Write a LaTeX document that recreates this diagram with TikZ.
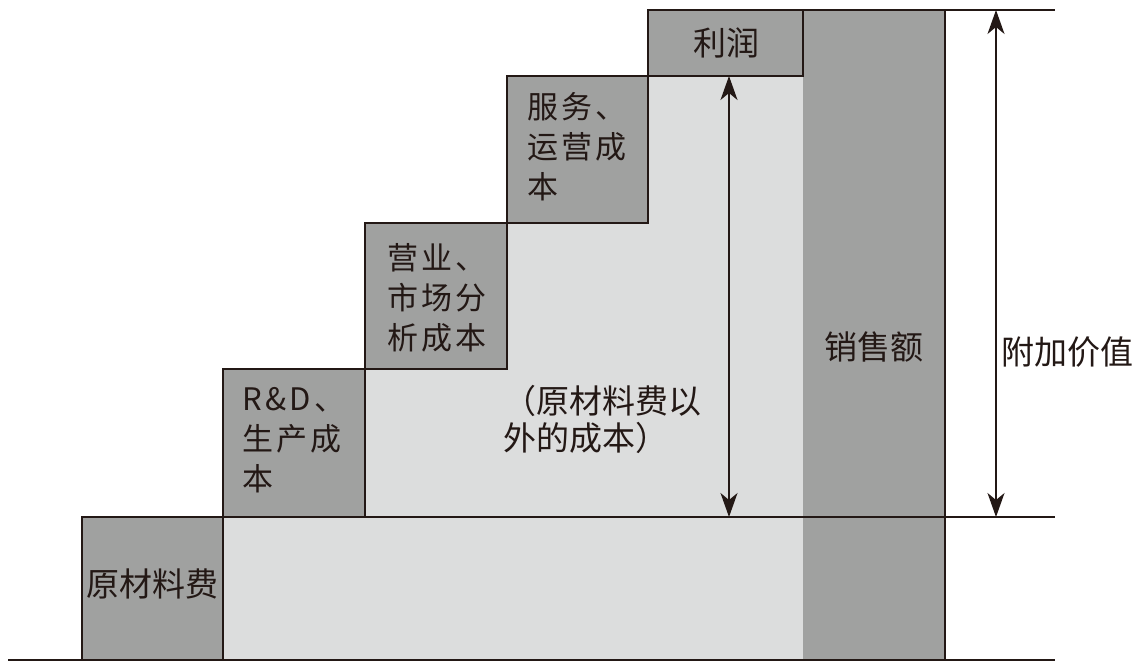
\documentclass[tikz,border=0pt]{standalone}
\usepackage{fontspec}
\setmainfont{Noto Sans CJK SC}
\newfontfamily\stepfont[LetterSpace=11]{Noto Sans CJK SC}
\usetikzlibrary{arrows.meta,positioning}
\tikzset{>={Stealth[length=24pt,width=17pt,inset=7pt]}}
\definecolor{ink}{HTML}{231815}
\definecolor{costgray}{HTML}{A0A1A0}
\definecolor{addgray}{HTML}{DCDDDD}
\tikzset{
  costbox/.style={fill=costgray,draw=ink,line width=1.3pt},
  steplabel/.style={anchor=north west,inner sep=0pt,align=left,text=ink,
    font=\stepfont\fontsize{31}{40}\selectfont},
  biglabel/.style={inner sep=0pt,text=ink,font=\fontsize{33}{37}\selectfont},
}

\begin{document}
\begin{tikzpicture}[x=1pt,y=-1pt]
        \useasboundingbox (0,0) rectangle (1138,670);
        \coordinate (R1) at (82,517);
        \coordinate (R2) at (223,660);
        \coordinate (D1) at (223,369);
        \coordinate (D2) at (365,517);
        \coordinate (M1) at (365,223);
        \coordinate (M2) at (507,369);
        \coordinate (S1) at (507,76);
        \coordinate (S2) at (648,223);
        \coordinate (P1) at (648,10);
        \coordinate (P2) at (803,76);
        \coordinate (V1) at (803,10);
        \coordinate (V2) at (945,660);
        \coordinate (E1) at (1055,10);
        \coordinate (E2) at (1055,517);
        \coordinate (G1) at (8,660);
        \coordinate (G2) at (1055,660);
        \coordinate (a) at (729,76);
        \coordinate (b) at (729,517);
        \coordinate (c) at (996,10);
        \coordinate (d) at (996,517);
      \fill[addgray] (223,660) -- (D1) -| (M1) -| (S1) -| (803,660) -- cycle;
      \fill[costgray] (V1) rectangle (V2);
      \draw[costbox] (R1) rectangle (R2);
      \draw[costbox] (D1) rectangle (D2);
      \draw[costbox] (M1) rectangle (M2);
      \draw[costbox] (S1) rectangle (S2);
      \draw[costbox] (P1) rectangle (P2);
      \draw[ink,line width=1.3pt] (P1) -- (E1);
      \draw[ink,line width=1.3pt] (R1) -- (E2);
      \draw[ink,line width=1.3pt] (G1) -- (G2);
      \draw[ink,line width=1.3pt] (945,10) -- (945,660);
      \draw[<->,ink,line width=1.3pt] (a) -- (b);
      \draw[<->,ink,line width=1.3pt] (c) -- (d);
      \node[steplabel] (rd) at (242,387) {R\&D、\\生产成\\本};
      \node[steplabel] (mk) at (387,243) {营业、\\市场分\\析成本};
      \node[steplabel] (sv) at (527,92) {服务、\\运营成\\本};
      \node[biglabel] (pf) at (726,43) {利润};
      \node[biglabel] (rv) at (874,347) {销售额};
      \node[biglabel,anchor=west] (va) at (1001,352) {附加价值};
      \node[biglabel] (rw) at (152,584) {原材料费};
      \node[biglabel,anchor=north west,align=left] (ot) at (503,385) {（原材料费以\\外的成本）};
    \end{tikzpicture}
\end{document}
